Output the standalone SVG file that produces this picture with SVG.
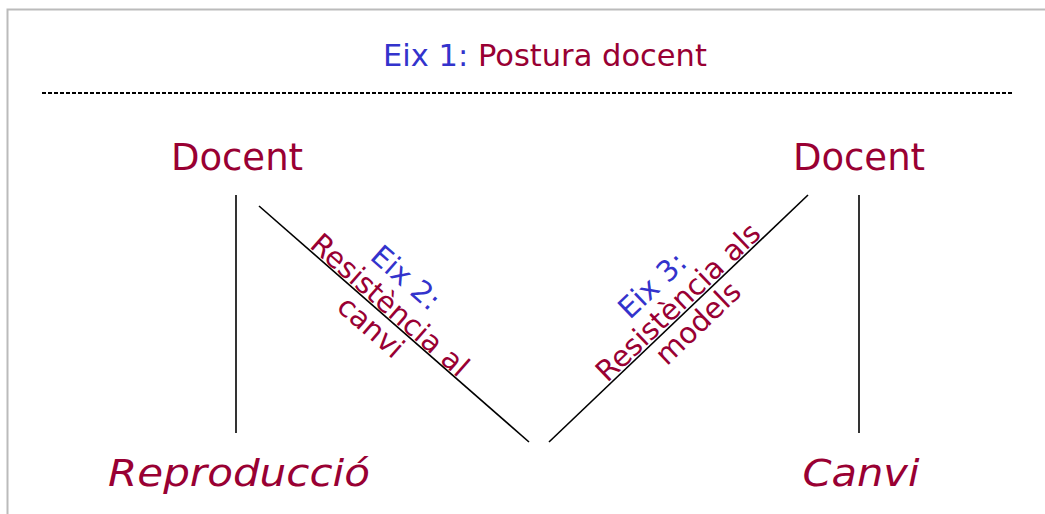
<svg xmlns="http://www.w3.org/2000/svg" width="1045" height="514" viewBox="0 0 1045 514">
  <style>
    .t { font-family: "DejaVu Sans", Verdana, sans-serif; }
    .blue { fill: #3333cc; }
    .red { fill: #990033; }
    .big { font-size: 37px; }
    .ital { font-size: 38px; font-style: italic; }
    .diag { font-size: 29px; }
    .ln { stroke: #000; stroke-width: 1.6; fill: none; }
  </style>
  <rect width="1045" height="514" fill="#fff"/>
  <!-- frame -->
  <path d="M7.5 514 V9.5 H1045" fill="none" stroke="#bbb" stroke-width="2"/>

  <g id="title">
    <text class="t" x="545" y="66" font-size="30.5" text-anchor="middle"><tspan class="blue">Eix 1: </tspan><tspan class="red">Postura docent</tspan></text>
    <line x1="42" y1="93" x2="1013" y2="93" stroke="#000" stroke-width="1.8" stroke-dasharray="4 2"/>
  </g>

  <g id="docent-left"><text class="t big red" x="237" y="170" text-anchor="middle">Docent</text></g>
  <g id="docent-right"><text class="t big red" x="859" y="170" text-anchor="middle">Docent</text></g>
  <g id="reproduccio"><text class="t ital red" x="239" y="486" text-anchor="middle" textLength="262" lengthAdjust="spacingAndGlyphs">Reproducció</text></g>
  <g id="canvi"><text class="t ital red" x="861" y="486" text-anchor="middle" textLength="117" lengthAdjust="spacingAndGlyphs">Canvi</text></g>

  <g id="connectors">
    <line class="ln" x1="236" y1="195" x2="236" y2="433"/>
    <line class="ln" x1="859" y1="195" x2="859" y2="433"/>
    <line class="ln" x1="259" y1="206" x2="529" y2="442"/>
    <line class="ln" x1="549" y1="442" x2="808" y2="195"/>
  </g>

  <g id="eix2" transform="translate(390 305) rotate(41.2)">
    <text class="t diag blue" x="-6" y="-21" text-anchor="middle">Eix 2:</text>
    <text class="t diag red" x="0" y="10" text-anchor="middle">Resistència al</text>
    <text class="t diag red" x="0" y="39" text-anchor="middle">canvi</text>
  </g>

  <g id="eix3" transform="translate(678 302) rotate(-43.6)">
    <text class="t diag blue" x="-7" y="-20" text-anchor="middle">Eix 3:</text>
    <text class="t diag red" x="0" y="10" text-anchor="middle">Resistència als</text>
    <text class="t diag red" x="0" y="39" text-anchor="middle">models</text>
  </g>
</svg>
